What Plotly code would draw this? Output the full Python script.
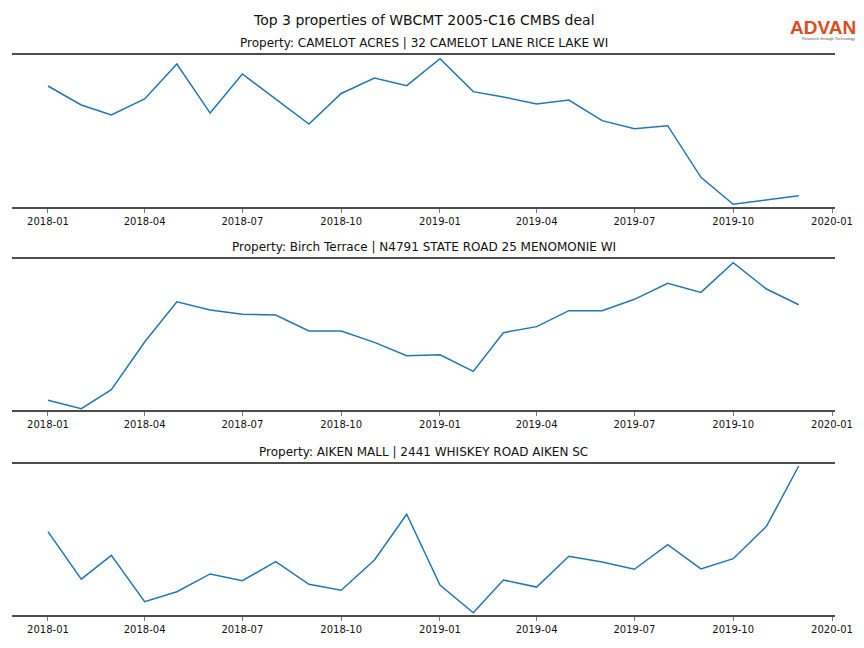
import plotly.graph_objects as go

months = ["2018-01-01", "2018-02-01", "2018-03-01", "2018-04-01", "2018-05-01", "2018-06-01",
          "2018-07-01", "2018-08-01", "2018-09-01", "2018-10-01", "2018-11-01", "2018-12-01",
          "2019-01-01", "2019-02-01", "2019-03-01", "2019-04-01", "2019-05-01", "2019-06-01",
          "2019-07-01", "2019-08-01", "2019-09-01", "2019-10-01", "2019-11-01", "2019-12-01"]

# relative traffic index (0-100 within each panel)
camelot_acres = [79.6, 67.1, 60.5, 71.1, 94.1, 61.8, 87.5, 71.1, 54.6, 74.7, 84.9, 79.8,
                 97.6, 75.9, 72.4, 67.8, 70.4, 56.8, 51.5, 53.5, 19.5, 1.8, 4.6, 7.4]
birch_terrace = [6.4, 0.9, 13.4, 45.0, 71.7, 66.2, 63.4, 62.9, 52.3, 52.3, 44.8, 36.0,
                 36.6, 25.6, 51.2, 55.2, 65.8, 65.8, 73.3, 83.9, 77.9, 97.5, 80.1, 69.7]
aiken_mall = [55.2, 23.8, 39.5, 8.8, 15.4, 27.2, 22.7, 35.3, 20.3, 16.4, 36.4, 66.7,
              19.9, 1.5, 23.2, 18.5, 38.9, 35.1, 30.3, 46.6, 30.5, 37.3, 58.7, 98.7]

titles = ["Property: CAMELOT ACRES | 32 CAMELOT LANE RICE LAKE WI",
          "Property: Birch Terrace | N4791 STATE ROAD 25 MENOMONIE WI",
          "Property: AIKEN MALL | 2441 WHISKEY ROAD AIKEN SC"]
main_title = "Top 3 properties of WBCMT 2005-C16 CMBS deal"
tick_vals = ["2018-01-01", "2018-04-01", "2018-07-01", "2018-10-01", "2019-01-01",
             "2019-04-01", "2019-07-01", "2019-10-01", "2020-01-01"]
tick_text = ["2018-01", "2018-04", "2018-07", "2018-10", "2019-01",
             "2019-04", "2019-07", "2019-10", "2020-01"]

series = [camelot_acres, birch_terrace, aiken_mall]
domains = [[0.7286, 1.0], [0.3661, 0.6357], [0.0, 0.2696]]

FONT = "DejaVu Sans"
fig = go.Figure()
annotations = []
for i, (vals, dom, t) in enumerate(zip(series, domains, titles)):
    n = "" if i == 0 else str(i + 1)
    fig.add_trace(go.Scatter(x=months, y=vals, mode="lines",
                             line=dict(color="#1f77b4", width=1.5),
                             xaxis="x" + n, yaxis="y" + n, showlegend=False))
    fig.update_layout(**{
        "xaxis" + n: dict(domain=[0, 1], anchor="y" + n, type="date",
                          range=["2017-11-28 12:00", "2020-01-03 19:00"],
                          tickvals=tick_vals, ticktext=tick_text,
                          ticks="outside", ticklen=4, tickwidth=1, tickcolor="#777777",
                          showline=True, mirror=True, linecolor="#4d4d4d", linewidth=2,
                          showgrid=False, zeroline=False,
                          tickfont=dict(family=FONT, size=10, color="#111111")),
        "yaxis" + n: dict(domain=dom, anchor="x" + n, range=[0, 100],
                          showticklabels=False, ticks="", showgrid=False,
                          zeroline=False, showline=False),
    })
    annotations.append(dict(text=t, xref="paper", yref="paper", x=0.5, y=dom[1],
                            xanchor="center", yanchor="bottom", yshift=3, showarrow=False,
                            font=dict(family=FONT, size=12, color="#111111")))

annotations.append(dict(text=main_title, xref="paper", yref="paper", x=0.5, y=1,
                        xanchor="center", yanchor="bottom", yshift=25, showarrow=False,
                        font=dict(family=FONT, size=14, color="#111111")))
annotations.append(dict(text="<b>ADVAN</b>", xref="paper", yref="paper", x=1.0, y=1,
                        xanchor="right", yanchor="bottom", xshift=23, yshift=15,
                        showarrow=False,
                        font=dict(family="Liberation Sans", size=19, color="#e04a22")))
annotations.append(dict(text="Research through Technology", xref="paper", yref="paper",
                        x=1.0, y=1, xanchor="right", yanchor="top", xshift=22, yshift=21,
                        showarrow=False,
                        font=dict(family="Liberation Sans", size=4, color="#555555")))

fig.update_layout(width=856, height=640, margin=dict(l=4, r=29, t=47, b=33),
                  paper_bgcolor="white", plot_bgcolor="white",
                  annotations=annotations)
fig.write_html("out.html")
